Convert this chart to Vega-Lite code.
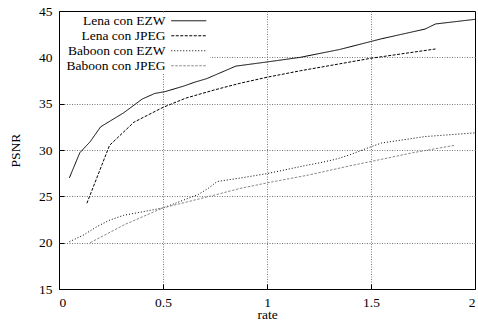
{
  "$schema": "https://vega.github.io/schema/vega-lite/v6.json",
  "width": 416,
  "height": 278,
  "autosize": {"type": "none"},
  "padding": {"left": 59, "top": 11, "right": 3, "bottom": 32},
  "background": "white",
  "config": {
    "font": "Liberation Serif",
    "view": {"stroke": "black", "strokeWidth": 1},
    "axis": {
      "labelFont": "Liberation Serif",
      "labelFontSize": 13.5,
      "labelColor": "black",
      "titleFont": "Liberation Serif",
      "titleFontSize": 13.5,
      "titleFontWeight": "normal",
      "titleColor": "black",
      "domain": false,
      "tickColor": "black",
      "tickSize": -5,
      "gridColor": "#777",
      "gridDash": [1, 1.5],
      "gridWidth": 1
    },
    "legend": {
      "orient": "none",
      "legendX": 1,
      "legendY": 2,
      "padding": 1,
      "fillColor": "white",
      "labelFont": "Liberation Serif",
      "labelFontSize": 13.5,
      "labelColor": "black",
      "labelAlign": "right",
      "labelOffset": -30,
      "symbolOffset": 121,
      "symbolType": "M-3.5,0H3.5",
      "symbolSize": 100,
      "symbolStrokeWidth": 1,
      "rowPadding": 0
    }
  },
  "data": {
    "values": [
      {"series": "Lena con EZW", "rate": 0.05, "psnr": 27.0},
      {"series": "Lena con EZW", "rate": 0.10, "psnr": 29.7},
      {"series": "Lena con EZW", "rate": 0.15, "psnr": 30.9},
      {"series": "Lena con EZW", "rate": 0.20, "psnr": 32.5},
      {"series": "Lena con EZW", "rate": 0.31, "psnr": 34.0},
      {"series": "Lena con EZW", "rate": 0.40, "psnr": 35.5},
      {"series": "Lena con EZW", "rate": 0.46, "psnr": 36.1},
      {"series": "Lena con EZW", "rate": 0.51, "psnr": 36.3},
      {"series": "Lena con EZW", "rate": 0.60, "psnr": 36.9},
      {"series": "Lena con EZW", "rate": 0.65, "psnr": 37.3},
      {"series": "Lena con EZW", "rate": 0.71, "psnr": 37.7},
      {"series": "Lena con EZW", "rate": 0.85, "psnr": 39.05},
      {"series": "Lena con EZW", "rate": 1.0, "psnr": 39.5},
      {"series": "Lena con EZW", "rate": 1.16, "psnr": 40.0},
      {"series": "Lena con EZW", "rate": 1.35, "psnr": 40.85},
      {"series": "Lena con EZW", "rate": 1.55, "psnr": 42.0},
      {"series": "Lena con EZW", "rate": 1.76, "psnr": 43.05},
      {"series": "Lena con EZW", "rate": 1.81, "psnr": 43.6},
      {"series": "Lena con EZW", "rate": 2.0, "psnr": 44.1},
      {"series": "Lena con JPEG", "rate": 0.134, "psnr": 24.25},
      {"series": "Lena con JPEG", "rate": 0.243, "psnr": 30.5},
      {"series": "Lena con JPEG", "rate": 0.36, "psnr": 33.0},
      {"series": "Lena con JPEG", "rate": 0.5, "psnr": 34.6},
      {"series": "Lena con JPEG", "rate": 0.61, "psnr": 35.6},
      {"series": "Lena con JPEG", "rate": 0.75, "psnr": 36.5},
      {"series": "Lena con JPEG", "rate": 0.87, "psnr": 37.2},
      {"series": "Lena con JPEG", "rate": 1.0, "psnr": 37.85},
      {"series": "Lena con JPEG", "rate": 1.16, "psnr": 38.55},
      {"series": "Lena con JPEG", "rate": 1.35, "psnr": 39.3},
      {"series": "Lena con JPEG", "rate": 1.5, "psnr": 39.9},
      {"series": "Lena con JPEG", "rate": 1.81, "psnr": 40.9},
      {"series": "Baboon con EZW", "rate": 0.05, "psnr": 20.1},
      {"series": "Baboon con EZW", "rate": 0.12, "psnr": 20.85},
      {"series": "Baboon con EZW", "rate": 0.18, "psnr": 21.7},
      {"series": "Baboon con EZW", "rate": 0.24, "psnr": 22.4},
      {"series": "Baboon con EZW", "rate": 0.31, "psnr": 22.95},
      {"series": "Baboon con EZW", "rate": 0.5, "psnr": 23.75},
      {"series": "Baboon con EZW", "rate": 0.67, "psnr": 25.2},
      {"series": "Baboon con EZW", "rate": 0.72, "psnr": 25.9},
      {"series": "Baboon con EZW", "rate": 0.76, "psnr": 26.6},
      {"series": "Baboon con EZW", "rate": 0.87, "psnr": 26.97},
      {"series": "Baboon con EZW", "rate": 1.0, "psnr": 27.45},
      {"series": "Baboon con EZW", "rate": 1.19, "psnr": 28.35},
      {"series": "Baboon con EZW", "rate": 1.25, "psnr": 28.6},
      {"series": "Baboon con EZW", "rate": 1.33, "psnr": 29.0},
      {"series": "Baboon con EZW", "rate": 1.4, "psnr": 29.5},
      {"series": "Baboon con EZW", "rate": 1.5, "psnr": 30.35},
      {"series": "Baboon con EZW", "rate": 1.55, "psnr": 30.75},
      {"series": "Baboon con EZW", "rate": 1.76, "psnr": 31.45},
      {"series": "Baboon con EZW", "rate": 1.85, "psnr": 31.6},
      {"series": "Baboon con EZW", "rate": 2.0, "psnr": 31.85},
      {"series": "Baboon con JPEG", "rate": 0.15, "psnr": 20.0},
      {"series": "Baboon con JPEG", "rate": 0.32, "psnr": 22.0},
      {"series": "Baboon con JPEG", "rate": 0.5, "psnr": 23.75},
      {"series": "Baboon con JPEG", "rate": 0.75, "psnr": 25.15},
      {"series": "Baboon con JPEG", "rate": 0.87, "psnr": 25.85},
      {"series": "Baboon con JPEG", "rate": 1.0, "psnr": 26.45},
      {"series": "Baboon con JPEG", "rate": 1.2, "psnr": 27.3},
      {"series": "Baboon con JPEG", "rate": 1.39, "psnr": 28.25},
      {"series": "Baboon con JPEG", "rate": 1.5, "psnr": 28.76},
      {"series": "Baboon con JPEG", "rate": 1.7, "psnr": 29.7},
      {"series": "Baboon con JPEG", "rate": 1.9, "psnr": 30.5}
    ]
  },
  "mark": {"type": "line", "strokeWidth": 1},
  "encoding": {
    "x": {
      "field": "rate",
      "type": "quantitative",
      "scale": {"domain": [0, 2], "nice": false, "zero": false},
      "axis": {
        "values": [0, 0.5, 1, 1.5, 2],
        "format": "~g",
        "title": "rate",
        "labelPadding": 11,
        "titlePadding": -1,
        "gridOpacity": {"condition": {"test": "datum.value <= 0 || datum.value >= 2", "value": 0}, "value": 1}
      }
    },
    "y": {
      "field": "psnr",
      "type": "quantitative",
      "scale": {"domain": [15, 45], "nice": false, "zero": false},
      "axis": {
        "values": [15, 20, 25, 30, 35, 40, 45],
        "title": "PSNR",
        "labelPadding": 12,
        "titlePadding": 16,
        "gridOpacity": {"condition": {"test": "datum.value <= 15 || datum.value >= 45", "value": 0}, "value": 1}
      }
    },
    "color": {
      "field": "series",
      "type": "nominal",
      "scale": {
        "domain": ["Lena con EZW", "Lena con JPEG", "Baboon con EZW", "Baboon con JPEG"],
        "range": ["black", "black", "black", "#888888"]
      },
      "legend": {"title": null}
    },
    "strokeDash": {
      "field": "series",
      "type": "nominal",
      "scale": {
        "domain": ["Lena con EZW", "Lena con JPEG", "Baboon con EZW", "Baboon con JPEG"],
        "range": [[1, 0], [3, 1.5], [1, 2], [2.5, 1.5]]
      },
      "legend": {"title": null}
    }
  }
}
